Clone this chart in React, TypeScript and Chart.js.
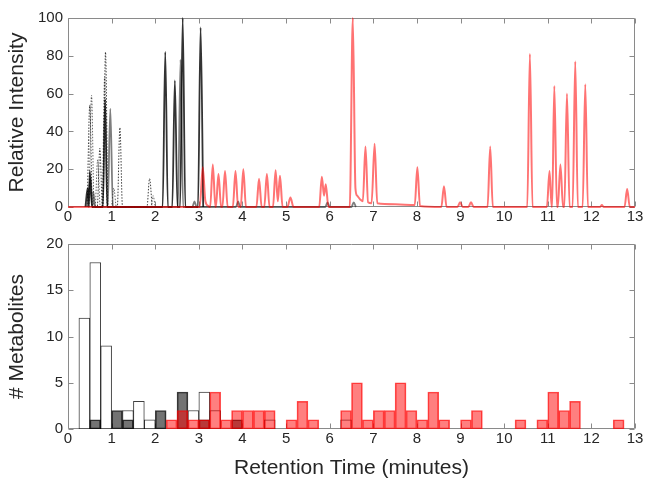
import React, { useEffect, useRef } from "react";
import { Chart, registerables } from "chart.js";

Chart.register(...registerables);

// ---------- data ----------
const X_TICKS = [0, 1, 2, 3, 4, 5, 6, 7, 8, 9, 10, 11, 12, 13];
const INTENSITY_TICKS = [0, 20, 40, 60, 80, 100];
const COUNT_TICKS = [0, 5, 10, 15, 20];
const BIN_WIDTH = 0.25; // minutes, histogram bins from 0 to 13

// histogram counts per 0.25-min bin (52 bins)
const whiteCounts = [
  0, 12, 18, 9, 0, 2, 3, 1, 0, 0, 0, 2, 4, 2, 0, 0, 0, 0, 1, 0, 0, 0, 0, 0, 0, 1,
  0, 0, 0, 0, 0, 0, 0, 0, 0, 0, 0, 0, 0, 0, 0, 0, 0, 0, 0, 0, 0, 0, 0, 0, 0, 0,
];
const grayCounts = [
  0, 0, 1, 0, 2, 1, 0, 0, 2, 0, 4, 0, 1, 0, 0, 1, 0, 0, 0, 0, 0, 0, 0, 0, 0, 0,
  0, 0, 0, 0, 0, 0, 0, 0, 0, 0, 0, 0, 0, 0, 0, 0, 0, 0, 0, 0, 0, 0, 0, 0, 0, 0,
];
const redCounts = [
  0, 0, 0, 0, 0, 0, 0, 0, 0, 1, 2, 1, 1, 4, 1, 2, 2, 2, 2, 0, 1, 3, 1, 0, 0, 2,
  5, 1, 2, 2, 5, 2, 1, 4, 1, 0, 1, 2, 0, 0, 0, 1, 0, 1, 4, 2, 3, 0, 0, 0, 1, 0,
];

// chromatogram traces: [retention time, relative intensity]
const redTrace: [number, number][] = [
  [0, 0], [3.02, 0], [3.09, 21], [3.15, 3], [3.22, 0.5], [3.26, 0], [3.32, 22.5], [3.38, 0],
  [3.39, 0], [3.45, 17.5], [3.51, 0], [3.54, 0], [3.6, 19], [3.66, 0], [3.78, 0], [3.84, 19],
  [3.9, 0], [3.96, 0], [4.02, 20], [4.08, 0], [4.32, 0], [4.38, 15], [4.44, 0], [4.5, 0],
  [4.56, 17.5], [4.62, 0], [4.7, 0], [4.76, 19.5], [4.81, 3], [4.86, 16.5], [4.92, 0],
  [5.03, 0], [5.1, 5], [5.17, 0], [5.76, 0], [5.82, 16], [5.87, 6], [5.91, 12], [5.97, 0],
  [6.46, 0], [6.53, 100], [6.59, 10], [6.63, 6], [6.7, 4], [6.76, 3], [6.82, 32], [6.88, 2.5],
  [6.96, 2], [7.03, 33.5], [7.09, 2], [7.5, 1.5], [7.95, 1], [8.01, 21], [8.07, 0.5],
  [8.56, 0], [8.62, 11], [8.68, 0], [8.93, 0], [8.99, 2.5], [9.05, 0], [9.18, 0], [9.24, 2.5],
  [9.3, 0], [9.62, 0], [9.68, 32], [9.74, 0], [10.53, 0], [10.59, 81], [10.65, 0],
  [10.98, 0], [11.04, 19], [11.09, 0], [11.1, 0], [11.15, 64], [11.21, 0], [11.23, 0],
  [11.29, 22.5], [11.35, 0], [11.38, 0], [11.44, 60], [11.5, 0], [11.57, 0], [11.63, 77],
  [11.69, 0], [11.8, 0], [11.86, 65], [11.92, 0], [12.2, 0], [12.24, 1], [12.28, 0],
  [12.76, 0], [12.82, 9.5], [12.88, 0], [13, 0],
];
const blackSolidTrace: [number, number][] = [
  [0.4, 0], [0.45, 10], [0.48, 0], [0.5, 19], [0.55, 0], [0.8, 0], [0.85, 57], [0.9, 0],
  [2.17, 0], [2.23, 82], [2.29, 0], [2.39, 0], [2.45, 67], [2.51, 0], [2.57, 0], [2.63, 100],
  [2.69, 0], [2.98, 0], [3.04, 95], [3.1, 0],
];
const graySolidTrace: [number, number][] = [
  [0.44, 0], [0.52, 15], [0.56, 0], [0.58, 8], [0.62, 0], [0.91, 0], [0.97, 52], [1.03, 0],
  [2.52, 0], [2.58, 78], [2.64, 0], [2.85, 0], [2.9, 3], [2.95, 0], [3.85, 0], [3.9, 3],
  [3.95, 0], [5.9, 0], [5.95, 2.5], [6.0, 0], [6.5, 0], [6.55, 2.5], [6.6, 0],
];
const dottedTraceA: [number, number][] = [
  [0.44, 0], [0.5, 54], [0.56, 0], [0.67, 0], [0.73, 31], [0.79, 0], [0.8, 0], [0.86, 82],
  [0.92, 0], [1.13, 0], [1.19, 42], [1.25, 0], [1.81, 0], [1.87, 15], [1.93, 0],
];
const dottedTraceB: [number, number][] = [
  [0.48, 0], [0.54, 59], [0.6, 0], [0.62, 0], [0.68, 25], [0.74, 0], [0.78, 0], [0.84, 69],
  [0.9, 0], [0.99, 0], [1.05, 10], [1.11, 0], [1.9, 0], [1.95, 6], [2.0, 0],
];

// ---------- styling ----------
const FONT = "'Liberation Sans', Arial, Helvetica, sans-serif";
const BOX_COLOR = "#8a8a8a";
const TEXT_COLOR = "#262626";
const W = 647;
const TOP_H = 230;
const BOT_H = 254;

const boxPlugin = {
  id: "matlabBox",
  beforeDatasetsDraw(chart: any) {
    const { ctx, chartArea: a, scales } = chart;
    ctx.save();
    ctx.strokeStyle = BOX_COLOR;
    ctx.lineWidth = 1;
    ctx.beginPath();
    const L = Math.round(a.left) + 0.5;
    const R = Math.round(a.right) - 0.5;
    const T = Math.round(a.top) + 0.5;
    const B = Math.round(a.bottom) - 0.5;
    ctx.rect(L, T, R - L, B - T);
    const len = 5;
    scales.x.ticks.forEach((t: any) => {
      const px = Math.round(scales.x.getPixelForValue(t.value)) + 0.5;
      ctx.moveTo(px, B);
      ctx.lineTo(px, B - len);
      ctx.moveTo(px, T);
      ctx.lineTo(px, T + len);
    });
    scales.y.ticks.forEach((t: any) => {
      const py = Math.round(scales.y.getPixelForValue(t.value)) + 0.5;
      ctx.moveTo(L, py);
      ctx.lineTo(L + len, py);
      ctx.moveTo(R, py);
      ctx.lineTo(R - len, py);
    });
    ctx.stroke();
    ctx.restore();
  },
};

function xScale(height: number, withTitle: boolean) {
  return {
    type: "linear",
    min: 0,
    max: 13,
    offset: false,
    afterBuildTicks: (s: any) => {
      s.ticks = X_TICKS.map((v) => ({ value: v }));
    },
    afterFit: (s: any) => {
      s.height = height;
    },
    ticks: { autoSkip: false, maxRotation: 0, padding: 1, color: TEXT_COLOR, font: { size: 15, family: FONT } },
    grid: { display: false, drawTicks: false },
    border: { display: false },
    title: withTitle
      ? { display: true, text: "Retention Time (minutes)", color: TEXT_COLOR, font: { size: 21, family: FONT }, padding: { top: 0, bottom: 3 } }
      : { display: false },
  };
}

function yScale(max: number, ticks: number[], title: string) {
  return {
    type: "linear",
    min: 0,
    max,
    afterBuildTicks: (s: any) => {
      s.ticks = ticks.map((v) => ({ value: v }));
    },
    afterFit: (s: any) => {
      s.width = 68;
    },
    ticks: { autoSkip: false, padding: 5, color: TEXT_COLOR, font: { size: 15, family: FONT } },
    grid: { display: false, drawTicks: false },
    border: { display: false },
    title: { display: true, text: title, color: TEXT_COLOR, font: { size: 21, family: FONT }, padding: { top: 5, bottom: 0 } },
  };
}

function lineSet(points: [number, number][], color: string, width: number, dash: number[] = []) {
  return {
    data: points.map(([x, y]) => ({ x, y })),
    borderColor: color,
    borderWidth: width,
    borderDash: dash,
    pointRadius: 0,
    fill: false,
    tension: 0,
    cubicInterpolationMode: "monotone",
    clip: 3,
  };
}

function barSet(counts: number[], fill: string, stroke: string) {
  return {
    data: counts.map((c, i) => ({ x: (i + 0.5) * BIN_WIDTH, y: c })),
    backgroundColor: fill,
    borderColor: stroke,
    borderWidth: 1,
    borderSkipped: false,
    barPercentage: 1,
    categoryPercentage: 1,
    grouped: false,
  };
}

export default function App() {
  const topRef = useRef<HTMLCanvasElement>(null);
  const botRef = useRef<HTMLCanvasElement>(null);

  useEffect(() => {
    const top = new Chart(topRef.current!, {
      type: "line",
      data: {
        datasets: [
          lineSet(redTrace, "rgba(255,0,0,0.55)", 2),
          lineSet(blackSolidTrace, "rgba(0,0,0,0.8)", 1.8),
          lineSet(graySolidTrace, "rgba(40,40,40,0.6)", 1.8),
          lineSet(dottedTraceA, "rgba(0,0,0,0.75)", 1, [1.5, 1.5]),
          lineSet(dottedTraceB, "rgba(0,0,0,0.6)", 1, [1.5, 1.5]),
        ] as any,
      },
      options: {
        animation: false,
        responsive: false,
        devicePixelRatio: 1,
        layout: { padding: { top: 18, right: 12, left: 0, bottom: 0 } },
        plugins: { legend: { display: false }, tooltip: { enabled: false } },
        scales: {
          x: xScale(TOP_H - 207, false),
          y: yScale(100, INTENSITY_TICKS, "Relative Intensity"),
        } as any,
      },
      plugins: [boxPlugin],
    });

    const bot = new Chart(botRef.current!, {
      type: "bar",
      data: {
        datasets: [
          barSet(redCounts, "rgba(255,0,0,0.5)", "rgba(255,0,0,0.7)"),
          barSet(grayCounts, "rgba(0,0,0,0.55)", "rgba(0,0,0,0.75)"),
          barSet(whiteCounts, "#ffffff", "rgba(0,0,0,0.75)"),
        ] as any,
      },
      options: {
        animation: false,
        responsive: false,
        devicePixelRatio: 1,
        layout: { padding: { top: 12, right: 12, left: 0, bottom: 0 } },
        plugins: { legend: { display: false }, tooltip: { enabled: false } },
        scales: {
          x: xScale(BOT_H - 199, true),
          y: yScale(20, COUNT_TICKS, "# Metabolites"),
        } as any,
      },
      plugins: [boxPlugin],
    });

    return () => {
      top.destroy();
      bot.destroy();
    };
  }, []);

  return (
    <div style={{ position: "fixed", left: 0, top: 0, width: W, height: 484, background: "#fff" }}>
      <canvas ref={topRef} width={W} height={TOP_H} style={{ position: "absolute", left: 0, top: 0, width: W, height: TOP_H }} />
      <canvas ref={botRef} width={W} height={BOT_H} style={{ position: "absolute", left: 0, top: 230, width: W, height: BOT_H }} />
    </div>
  );
}
